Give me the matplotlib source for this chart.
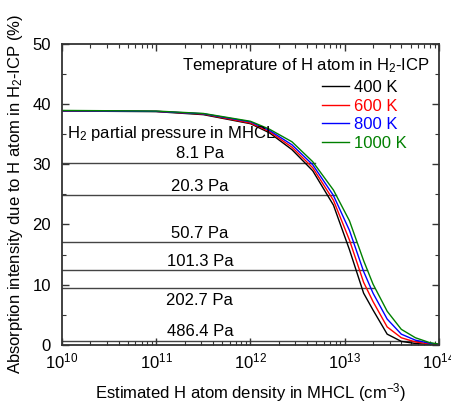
import matplotlib
matplotlib.use("Agg")
import matplotlib.pyplot as plt
from matplotlib.ticker import LogLocator, MultipleLocator, NullFormatter

plt.rcParams['font.family'] = ['Liberation Sans', 'DejaVu Sans']
plt.rcParams['mathtext.fontset'] = 'custom'
plt.rcParams['mathtext.rm'] = 'Liberation Sans'
plt.rcParams['mathtext.it'] = 'Liberation Sans:italic'
plt.rcParams['mathtext.bf'] = 'Liberation Sans:bold'

# ---- data ----
log_density = [10.0, 11.0, 11.5, 12.0, 12.2, 12.44, 12.66, 12.88, 13.05, 13.2,
               13.3, 13.45, 13.6, 13.75, 13.9, 14.0]
abs_400K = [38.8, 38.7, 38.2, 36.7, 35.2, 32.4, 28.9, 23.2, 15.8, 8.6,
            5.8, 1.8, 0.6, 0.25, 0.1, 0.0]
abs_600K = [38.85, 38.75, 38.3, 36.8, 35.4, 32.8, 29.4, 24.0, 17.4, 10.4,
            7.2, 3.0, 1.2, 0.5, 0.2, 0.05]
abs_800K = [38.85, 38.75, 38.35, 37.0, 35.6, 33.2, 29.9, 24.8, 19.0, 12.2,
            8.6, 4.3, 1.8, 0.8, 0.3, 0.1]
abs_1000K = [38.9, 38.8, 38.4, 37.1, 35.8, 33.7, 30.4, 25.7, 20.6, 14.0,
             10.1, 5.6, 2.6, 1.2, 0.4, 0.15]
temp_labels = ['400 K', '600 K', '800 K', '1000 K']
temp_colors = ['black', '#ff0000', '#0000ff', '#008000']

pressure_labels = ['8.1 Pa', '20.3 Pa', '50.7 Pa', '101.3 Pa', '202.7 Pa', '486.4 Pa']
pressure_levels = [30.2, 24.8, 17.0, 12.4, 9.5, 0.7]
pressure_line_end = [12.68, 12.91, 13.12, 13.24, 13.31, 13.8]

density = [10 ** v for v in log_density]
series = [abs_400K, abs_600K, abs_800K, abs_1000K]

FS = 12

fig = plt.figure(figsize=(4.52, 4.01), dpi=100)
ax = fig.add_axes([62 / 452, 1 - 345 / 401, (439 - 62) / 452, (345 - 43.5) / 401])

# horizontal pressure lines
for lvl, xe, lab in zip(pressure_levels, pressure_line_end, pressure_labels):
    ax.plot([1e10, 10 ** xe], [lvl, lvl], color='#444444', lw=1.0, zorder=1)
    if lab == '202.7 Pa':
        ax.text(2.9e11, lvl - 0.8, lab, ha='center', va='top', fontsize=FS)
    else:
        ax.text(2.9e11, lvl + 0.25, lab, ha='center', va='bottom', fontsize=FS)

handles = []
for ys, c, lab in zip(series, temp_colors, temp_labels):
    h, = ax.plot(density, ys, color=c, lw=1.0, label=lab, zorder=2)
    handles.append(h)

ax.text(1.12e10, 35.0, 'H$_2$ partial pressure in MHCL', ha='left', va='center', fontsize=FS)

ax.set_xscale('log')
ax.set_xlim(1e10, 1e14)
ax.set_ylim(0, 50)
ax.xaxis.set_major_locator(LogLocator(base=10, numticks=10))
ax.xaxis.set_minor_locator(LogLocator(base=10, subs=range(2, 10), numticks=20))
ax.xaxis.set_minor_formatter(NullFormatter())
ax.yaxis.set_major_locator(MultipleLocator(10))
ax.yaxis.set_minor_locator(MultipleLocator(5))

ax.tick_params(which='both', direction='in', top=True, right=True, colors='#333333',
               labelcolor='black', labelsize=FS)
ax.tick_params(which='major', length=5, width=1.0)
ax.tick_params(which='minor', length=3, width=0.8)
ax.tick_params(axis='y', pad=8)
ax.tick_params(axis='x', pad=5)
for s in ax.spines.values():
    s.set_color('#333333')
    s.set_linewidth(1.3)

ax.set_xlabel('Estimated H atom density in MHCL (cm$^{-3}$)', fontsize=FS, labelpad=7)
ax.set_ylabel('Absorption intensity due to H atom in H$_2$-ICP (%)', fontsize=FS, labelpad=5)

ax.text(0.975, 0.928, 'Temepratu' + 're of H atom in H$_2$-ICP',
        transform=ax.transAxes, ha='right', va='center', fontsize=FS)

leg = ax.legend(handles=handles, loc='upper left', bbox_to_anchor=(322 / 452, 1 - 80 / 401),
                bbox_transform=fig.transFigure, frameon=False, fontsize=FS,
                handlelength=1.65, handletextpad=0.25, labelspacing=0.22,
                borderpad=0, borderaxespad=0)
for t, c in zip(leg.get_texts(), temp_colors):
    t.set_color(c)

fig.savefig('out.png', dpi=100)
